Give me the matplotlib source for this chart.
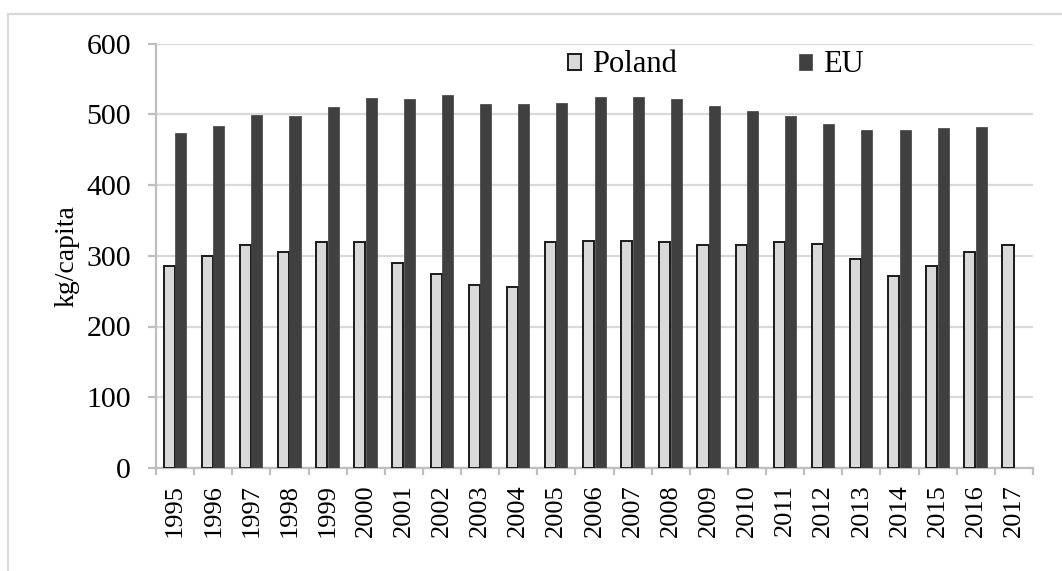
import numpy as np
import matplotlib
matplotlib.use("Agg")
import matplotlib.pyplot as plt
from matplotlib.lines import Line2D

years = [str(y) for y in range(1995, 2018)]
poland = [285, 300, 315, 306, 319, 319, 290, 274, 259, 256, 319, 321,
          321, 319, 315, 315, 319, 317, 296, 272, 285, 306, 315]
# no EU figure for 2017
eu = [473, 484, 499, 497, 510, 523, 521, 527, 514, 514, 516, 524,
      525, 521, 512, 505, 497, 486, 478, 478, 480, 482]

plt.rcParams['font.family'] = ['Liberation Serif', 'DejaVu Serif']

fig = plt.figure(figsize=(10.62, 5.71), dpi=100)
ax = fig.add_axes([156/1062, 1-468/571, (1033-156)/1062, (468-43.5)/571])

x = np.arange(len(years))
w = 0.29
grid_c = "#d9d9d9"
axis_c = "#bfbfbf"

ax.bar(x - 0.155, poland, w, color="#d9d9d9", edgecolor="#1a1a1a", linewidth=1.4,
       label="Poland", zorder=3)
ax.bar(x[:len(eu)] + 0.145, eu, w, color="#404040", edgecolor="#404040", linewidth=0.5,
       label="EU", zorder=3)

ax.set_ylim(0, 600)
ax.set_xlim(-0.5, len(years) - 0.5)
ax.set_yticks(range(0, 601, 100))
ax.yaxis.grid(True, color=grid_c, linewidth=1.6, zorder=0)
ax.set_axisbelow(True)

for s in ["top", "right"]:
    ax.spines[s].set_visible(False)
for s in ["left", "bottom"]:
    ax.spines[s].set_color(axis_c)
    ax.spines[s].set_linewidth(1.6)

ax.set_xticks(x)
ax.set_xticklabels(years, rotation=90, fontsize=19)
ax.set_xticks(np.arange(-0.5, len(years)), minor=True)
ax.tick_params(axis="x", which="major", length=0, pad=11.5)
ax.tick_params(axis="x", which="minor", length=5, width=1.6, color=axis_c)
ax.tick_params(axis="y", length=6, width=1.6, color=axis_c, labelsize=21.5, pad=12)

ax.set_ylabel("kg/capita", fontsize=20, labelpad=5)

fig.legend(loc="center left", bbox_to_anchor=(568/1062, 1-65/571), ncol=2,
           frameon=False, fontsize=22, handlelength=0.43, handleheight=0.43,
           handletextpad=0.36, columnspacing=4.0, borderpad=0, borderaxespad=0)

# outer chart border
fig.add_artist(Line2D([8/1062, 1], [1-14/571, 1-14/571], color="#d9d9d9", lw=1.6))
fig.add_artist(Line2D([8/1062, 8/1062], [1-14/571, 0], color="#d9d9d9", lw=1.6))

fig.savefig("out.png", dpi=100)
